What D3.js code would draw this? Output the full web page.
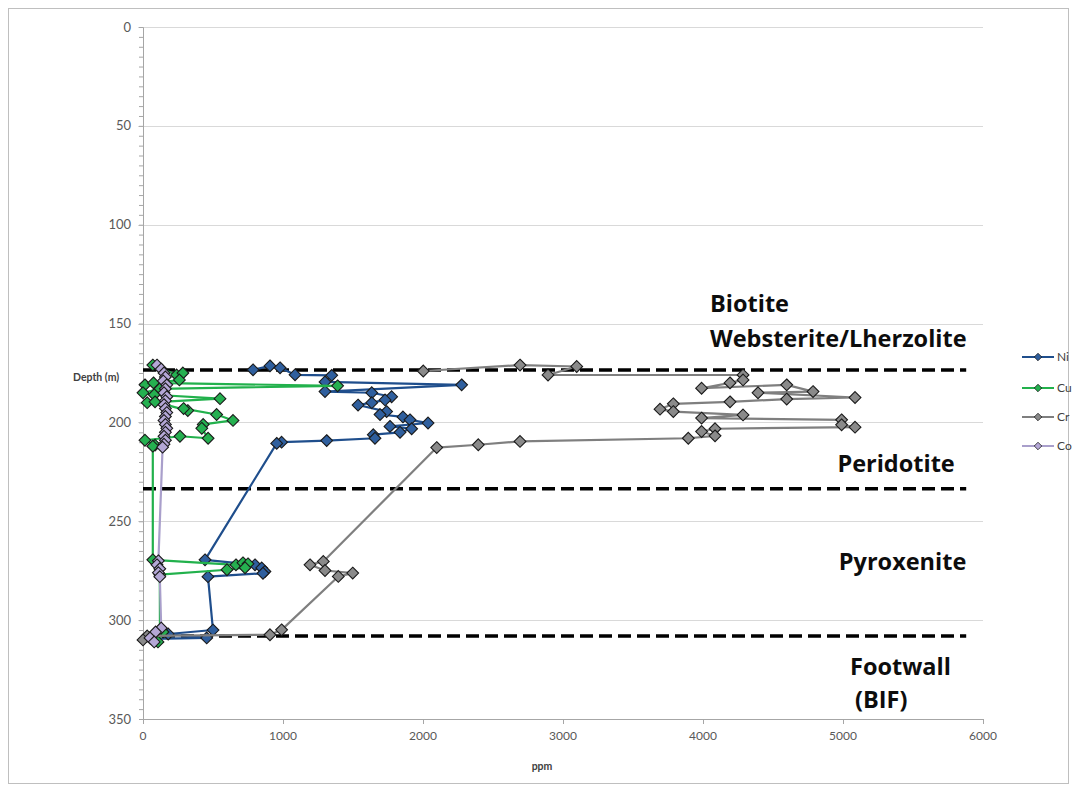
<!DOCTYPE html>
<html>
<head>
<meta charset="utf-8">
<script src="https://cdn.jsdelivr.net/npm/d3@7"></script>
<style>
  html, body { margin: 0; padding: 0; background: #fff; }
  svg { display: block; font-family: Lato, "Open Sans", sans-serif; }
</style>
</head>
<body>
<svg id="chart" width="1077" height="791"></svg>
<script>
// Element concentrations down the drill hole: [ppm, depth (m)] in sample order
const niData = [
  [786,173.4],[907,171.4],[979,172.4],[1086,175.9],[1348,176.2],[1300,179.5],[2276,181],
  [1300,184.4],[1634,185],[1776,187],[1729,188.6],[1634,190],[1536,191.2],[1740,194.5],
  [1693,196],[1857,197.2],[1907,198.7],[2036,200.3],[1764,202],[1919,203.2],[1836,205],
  [1645,206.2],[1657,208],[1312,209.2],[990,210],[955,210.6],[443,269.5],[800,272],
  [848,273.6],[871,275.4],[857,276.3],[464,278],[500,305],[180,307],[455,309],[60,309.5]
];
const cuData = [
  [70,171],[240,176],[285,175],[260,178.5],[14,181],[75,180],[1390,181.5],[120,183],
  [0,185],[80,186],[550,188],[30,190],[86,189.6],[320,194],[290,193],[526,196],[643,199],
  [430,201],[420,203],[465,208],[264,207],[14,209],[86,211.5],[70,212],[70,269.5],
  [664,272],[714,271],[750,271.5],[729,273.5],[600,274.5],[120,277],[121,305],[143,306],[107,311]
];
const crData = [
  [2002,174],[2693,171],[3098,171.7],[2893,176],[4286,176],[4286,178.5],[4193,180],
  [3990,182.7],[4598,181],[4786,184.4],[4393,185],[5086,187.4],[4598,188.2],[4193,189.6],
  [3788,190.6],[3693,193.3],[3788,194.5],[4286,196.2],[3990,197.8],[4990,198.7],
  [4990,201.2],[5086,202.4],[4086,203.2],[3990,204.6],[4086,206.8],[3895,208],
  [2693,209.6],[2395,211.3],[2098,212.7],[1288,270.3],[1193,272],[1300,274.9],
  [1498,276.2],[1395,277.9],[990,304.9],[907,307.4],[30,308],[0,310]
];
const coData = [
  [100,171],[130,173],[150,175],[160,177],[145,179],[170,181],[160,183],[150,185],
  [170,187],[160,189],[150,191],[160,193],[170,195],[160,197],[150,199],[160,201],
  [170,203],[160,205],[150,207],[160,209],[150,211],[140,212.5],[110,270],[100,272],
  [120,274],[110,276],[120,278],[130,304],[90,306],[50,309],[80,311]
];

// Lithological contacts (depth in m) and unit labels
const contactDepths = [173.5, 233.5, 308];
const contactExtent = [0, 5880];
const unitLabels = [
  { text: "Biotite", ppm: 4050, depth: 144 },
  { text: "Websterite/Lherzolite", ppm: 4050, depth: 161.8 },
  { text: "Peridotite", ppm: 4960, depth: 225 },
  { text: "Pyroxenite", ppm: 4970, depth: 274.5 },
  { text: "Footwall", ppm: 5050, depth: 327.5 },
  { text: "(BIF)", ppm: 5086, depth: 344.5 }
];

const yTicks = [0, 50, 100, 150, 200, 250, 300, 350];
const xTicks = [0, 1000, 2000, 3000, 4000, 5000, 6000];

const series = [
  { name: "Ni", data: niData, line: "#1f4e8c", fill: "#2f5f9e" },
  { name: "Cu", data: cuData, line: "#22b14c", fill: "#25b050" },
  { name: "Cr", data: crData, line: "#7f7f7f", fill: "#8a8a8a" },
  { name: "Co", data: coData, line: "#a99fcb", fill: "#b4a7d6" }
];

const svg = d3.select("#chart");

// chart frame
svg.append("rect").attr("x", 8.5).attr("y", 8.5).attr("width", 1060).attr("height", 775)
  .attr("fill", "#fff").attr("stroke", "#bfbfbf").attr("stroke-width", 1);

const x = d3.scaleLinear().domain([0, 6000]).range([143, 983]);
const y = d3.scaleLinear().domain([0, 350]).range([27, 719]);

// horizontal gridlines
svg.append("g").selectAll("line").data(yTicks.filter(d => d < 350)).join("line")
  .attr("x1", x(0) - 5).attr("x2", x(6000))
  .attr("y1", d => Math.round(y(d)) + 0.5).attr("y2", d => Math.round(y(d)) + 0.5)
  .attr("stroke", "#d9d9d9").attr("stroke-width", 1);

// y axis with minor ticks every 5 m
const yAxis = svg.append("g").attr("transform", `translate(${x(0)},0)`)
  .call(d3.axisLeft(y).tickValues(d3.range(0, 351, 5)).tickSize(4).tickFormat(""));
yAxis.select(".domain").attr("stroke", "#a6a6a6");
yAxis.selectAll(".tick line").attr("stroke", "#a6a6a6");
svg.append("g").selectAll("text").data(yTicks).join("text")
  .attr("x", x(0) - 12).attr("y", d => y(d)).attr("dy", "0.35em")
  .attr("text-anchor", "end").attr("font-size", 13).attr("fill", "#595959")
  .text(d => d);

// x axis at the bottom
const xAxis = svg.append("g").attr("transform", `translate(0,${y(350)})`)
  .call(d3.axisBottom(x).tickValues(xTicks).tickSize(5).tickFormat(""));
xAxis.select(".domain").attr("stroke", "#a6a6a6");
xAxis.selectAll(".tick line").attr("stroke", "#a6a6a6");
svg.append("g").selectAll("text").data(xTicks).join("text")
  .attr("x", d => x(d)).attr("y", y(350) + 21)
  .attr("text-anchor", "middle").attr("font-size", 12).attr("fill", "#595959")
  .text(d => d);

// axis titles
svg.append("text").attr("x", 73).attr("y", 381).attr("font-size", 10.5)
  .attr("font-weight", "bold").attr("fill", "#404040").text("Depth (m)");
svg.append("text").attr("x", x(2850)).attr("y", 770).attr("text-anchor", "middle")
  .attr("font-size", 10.5).attr("font-weight", "bold").attr("fill", "#404040").text("ppm");

// contact lines
svg.append("g").selectAll("line").data(contactDepths).join("line")
  .attr("x1", x(contactExtent[0])).attr("x2", x(contactExtent[1]))
  .attr("y1", d => y(d)).attr("y2", d => y(d))
  .attr("stroke", "#000").attr("stroke-width", 3.5).attr("stroke-dasharray", "13,6");

// series lines and diamond markers
const line = d3.line().x(d => x(d[0])).y(d => y(d[1]));
const diamond = d3.symbol().type(d3.symbolDiamond2).size(88);

series.forEach(s => {
  const g = svg.append("g");
  g.append("path").datum(s.data).attr("d", line)
    .attr("fill", "none").attr("stroke", s.line).attr("stroke-width", 2.2).attr("stroke-linejoin", "round");
  g.selectAll("path.pt").data(s.data).join("path").attr("class", "pt")
    .attr("d", diamond)
    .attr("transform", d => `translate(${x(d[0])},${y(d[1])})`)
    .attr("fill", s.fill).attr("stroke", "#1a1a1a").attr("stroke-width", 1.1);
});

// unit labels
svg.append("g").selectAll("text").data(unitLabels).join("text")
  .attr("x", d => x(d.ppm)).attr("y", d => y(d.depth))
  .attr("font-family", "'Open Sans', Lato, sans-serif")
  .attr("font-size", 23.5).attr("font-weight", "bold").attr("fill", "#0d0d0d")
  .text(d => d.text);

// legend
const legendY = [357, 388, 417, 446];
const legend = svg.append("g").selectAll("g").data(series).join("g")
  .attr("transform", (d, i) => `translate(1022,${legendY[i]})`);
legend.append("line").attr("x1", 0).attr("x2", 32).attr("y1", 0).attr("y2", 0)
  .attr("stroke", d => d.line).attr("stroke-width", 2);
legend.append("path").attr("d", d3.symbol().type(d3.symbolDiamond2).size(36))
  .attr("transform", "translate(16,0)")
  .attr("fill", d => d.fill).attr("stroke", "#1a1a1a").attr("stroke-width", 0.8);
legend.append("text").attr("x", 35).attr("dy", "0.35em").attr("font-size", 12)
  .attr("fill", "#404040").text(d => d.name);
</script>
</body>
</html>
